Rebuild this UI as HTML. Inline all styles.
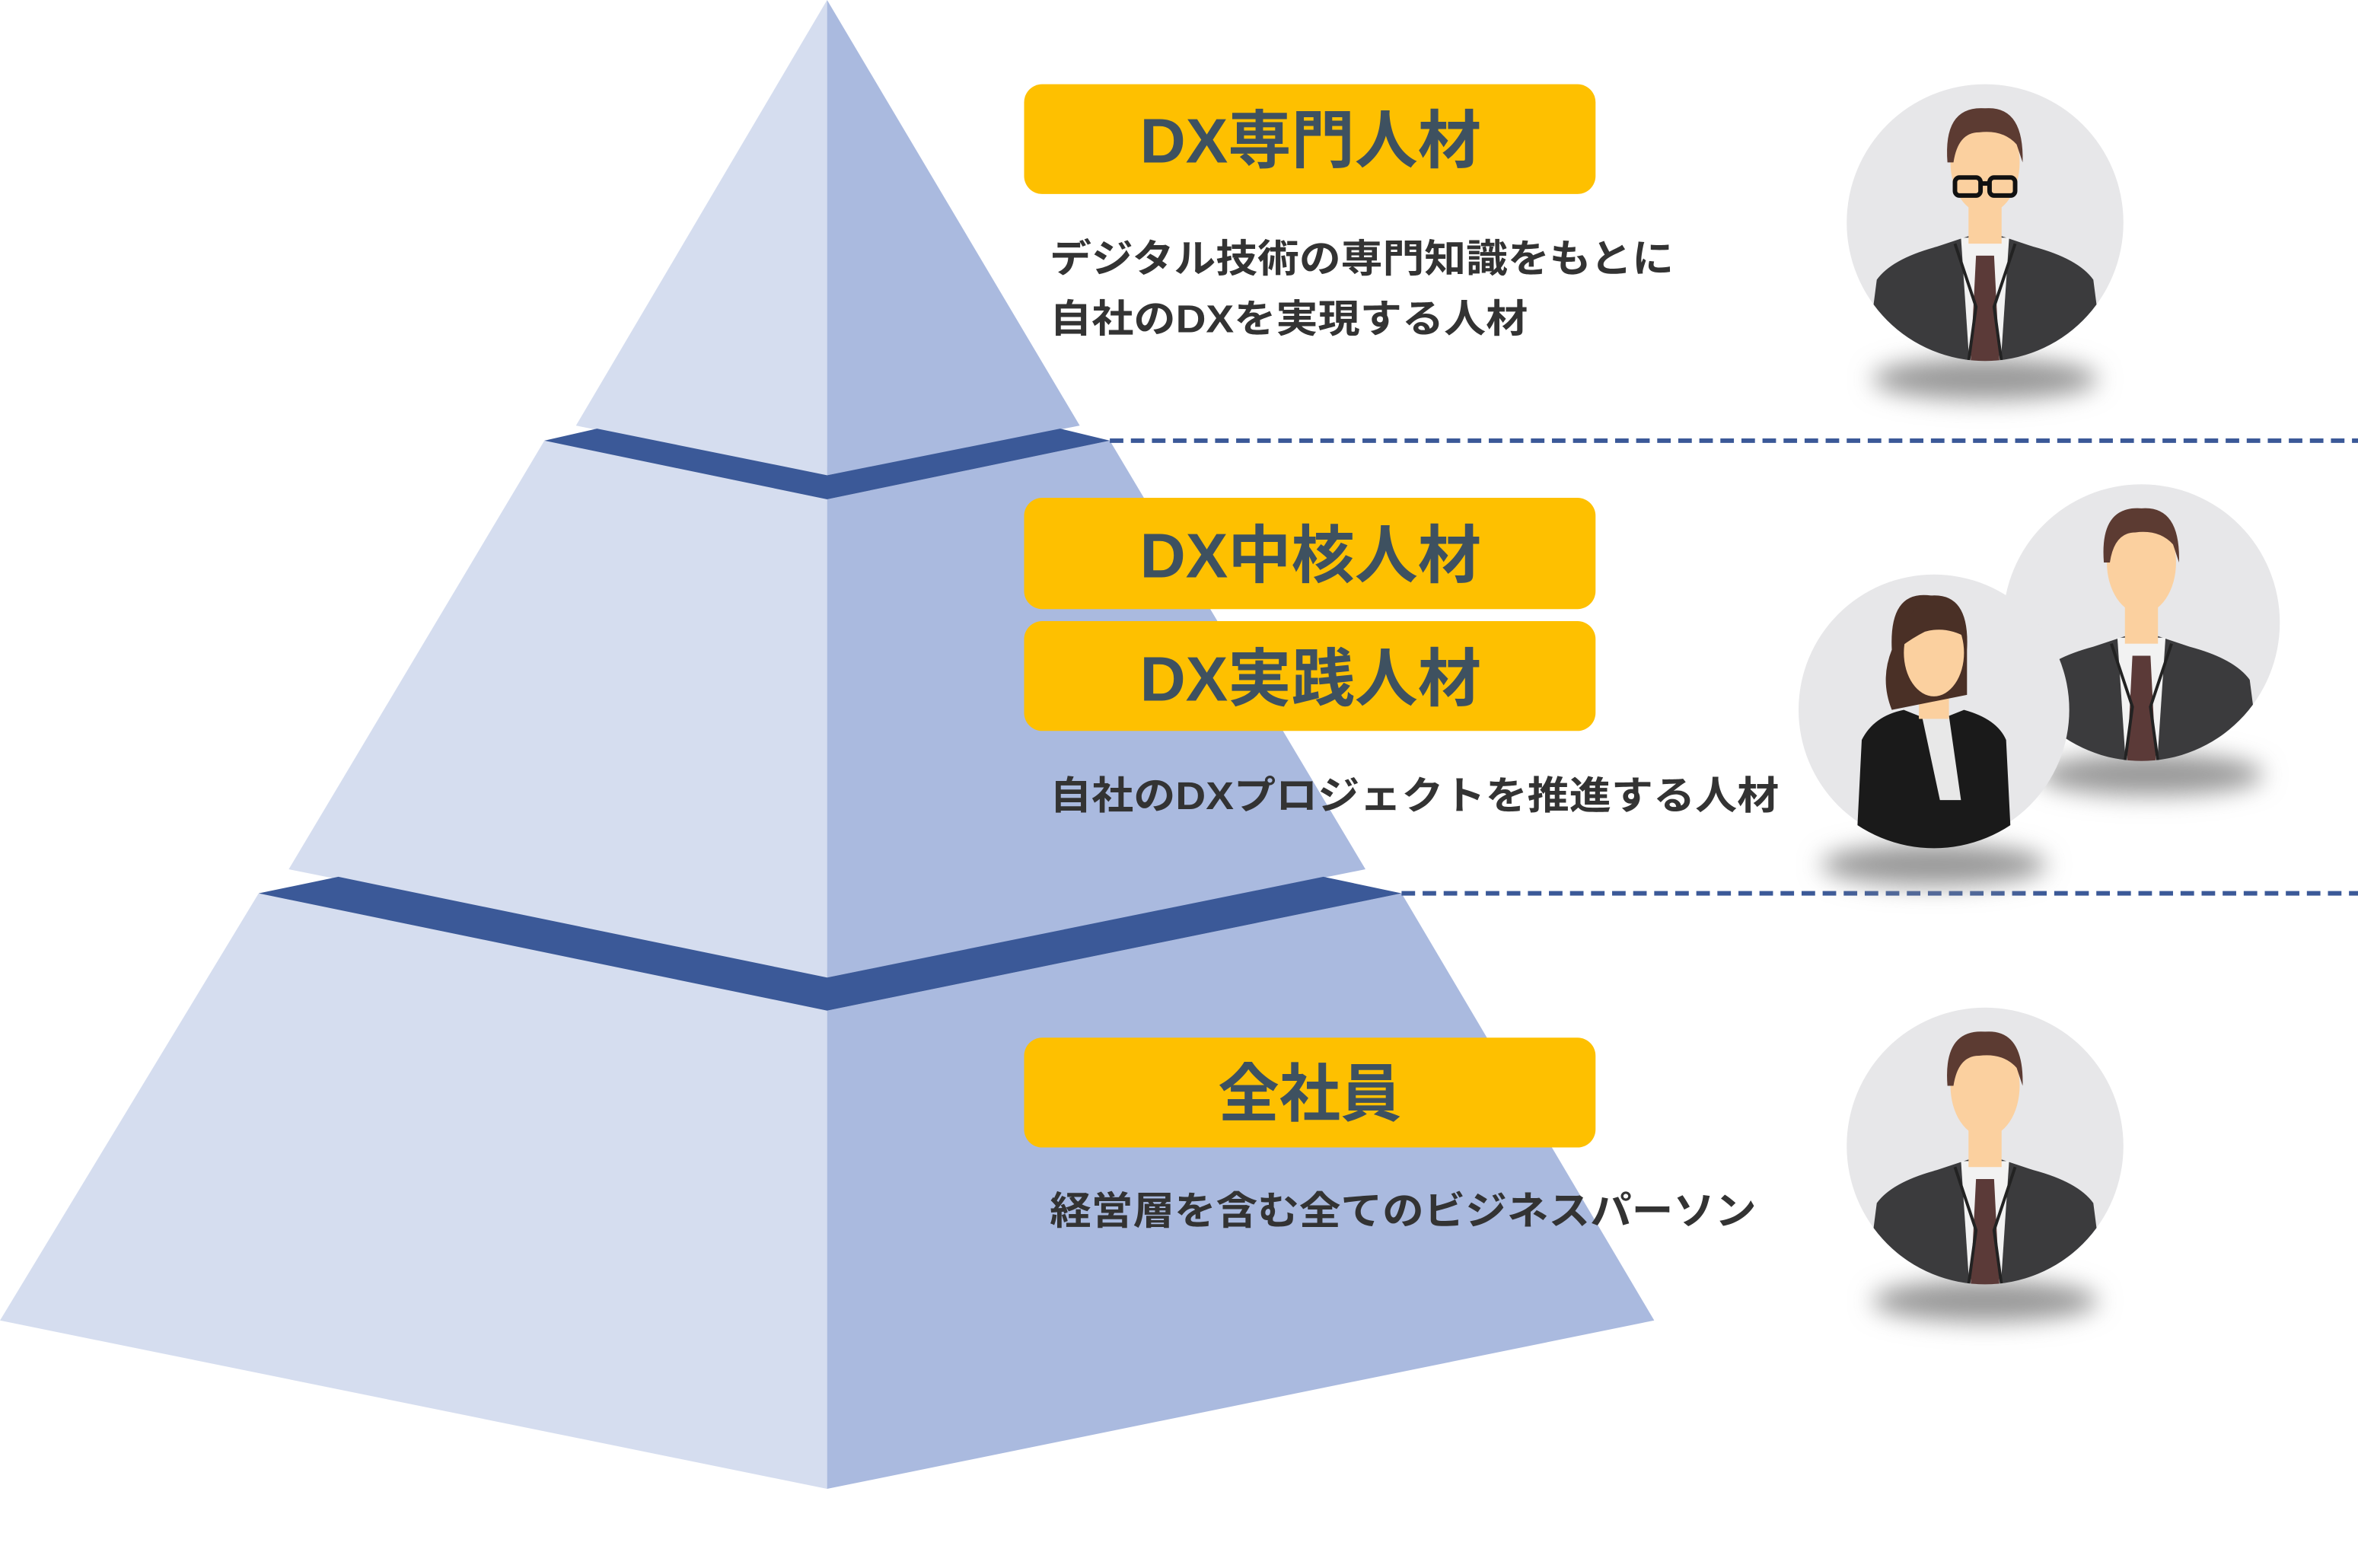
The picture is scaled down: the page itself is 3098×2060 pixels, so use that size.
<!DOCTYPE html>
<html><head><meta charset="utf-8"><style>
html,body{margin:0;padding:0;background:#fff;}
svg{display:block;}
.h{font-family:"Liberation Sans","Noto Sans CJK JP",sans-serif;font-weight:bold;font-size:42px;fill:#3e5160;}
.d{font-family:"Liberation Sans","Noto Sans CJK JP",sans-serif;font-weight:bold;font-size:26px;fill:#333;}
</style></head><body>
<svg width="3098" height="2060" viewBox="0 0 1568 1042.6" xmlns="http://www.w3.org/2000/svg">
<defs>
<filter id="bl" x="-50%" y="-100%" width="200%" height="300%"><feGaussianBlur stdDeviation="8"/></filter>
<clipPath id="cc"><circle cx="0" cy="0" r="92"/></clipPath>
<g id="man">
<circle r="92" fill="#e7e7e9"/>
<g clip-path="url(#cc)">
<path d="M-80,100 L-72,38 Q-62,24 -32,16 L-8,8 L8,8 L32,16 Q62,24 72,38 L80,100 Z" fill="#3b3b3d"/>
<path d="M-16,10 L16,10 L10,100 L-10,100 Z" fill="#f2f2f2"/>
<path d="M-6,22 L6,22 L10,100 L-10,100 Z" fill="#5b3a38"/>
<path d="M-20,14 L-6,56 L-12,100 M20,14 L6,56 L12,100" stroke="#222" stroke-width="2" fill="none"/>
<rect x="-11" y="-16" width="22" height="30" fill="#fbd09f"/>
<ellipse cx="0" cy="-40" rx="23" ry="34" fill="#fbd09f"/>
<path d="M-25,-40 Q-28,-78 0,-76 Q26,-78 25,-40 L21,-52 Q12,-62 -4,-60 Q-18,-60 -21,-40 Z" fill="#5c3b32"/>
</g>
</g>
</defs>

<polygon points="550,0 383,283 550,316" fill="#d5ddef"/>
<polygon points="550,0 718,283 550,316" fill="#aabadf"/>
<polygon points="362,293 550,332 550,650 192,578" fill="#d5ddef"/>
<polygon points="738,293 550,332 550,650 908,578" fill="#aabadf"/>
<polygon points="172,594 550,672 550,990 0,878" fill="#d5ddef"/>
<polygon points="932,594 550,672 550,990 1100,878" fill="#aabadf"/>
<polygon points="362,293 397,285 550,316 705,285 738,293 550,332" fill="#3b5998"/>
<polygon points="172,594 225,583 550,650 880,583 932,594 550,672" fill="#3b5998"/>

<line x1="738" y1="293" x2="1568" y2="293" stroke="#3b5998" stroke-width="3" stroke-dasharray="9,5"/>
<line x1="932" y1="594" x2="1568" y2="594" stroke="#3b5998" stroke-width="3" stroke-dasharray="9,5"/>

<rect x="681" y="56" width="380" height="73" rx="12" fill="#fec000"/>
<rect x="681" y="331" width="380" height="74" rx="12" fill="#fec000"/>
<rect x="681" y="413" width="380" height="73" rx="12" fill="#fec000"/>
<rect x="681" y="690" width="380" height="73" rx="12" fill="#fec000"/>
<text class="h" x="758" y="108" textLength="227" lengthAdjust="spacingAndGlyphs">DX専門人材</text>
<text class="h" x="758" y="384" textLength="227" lengthAdjust="spacingAndGlyphs">DX中核人材</text>
<text class="h" x="758" y="466" textLength="227" lengthAdjust="spacingAndGlyphs">DX実践人材</text>
<text class="h" x="810" y="742" textLength="122" lengthAdjust="spacingAndGlyphs">全社員</text>

<text class="d" x="698" y="181" textLength="415" lengthAdjust="spacingAndGlyphs">デジタル技術の専門知識をもとに</text>
<text class="d" x="698" y="221" textLength="318" lengthAdjust="spacingAndGlyphs">自社のDXを実現する人材</text>
<text class="d" x="698" y="538" textLength="485" lengthAdjust="spacingAndGlyphs">自社のDXプロジェクトを推進する人材</text>
<text class="d" x="698" y="814" textLength="470" lengthAdjust="spacingAndGlyphs">経営層を含む全てのビジネスパーソン</text>

<ellipse cx="1320" cy="252" rx="75" ry="14" fill="#999" filter="url(#bl)"/>
<use href="#man" x="1320" y="148"/>
<g transform="translate(1320,148)" fill="none" stroke="#111" stroke-width="3">
<rect x="-20" y="-30" width="17" height="12" rx="3"/><rect x="3" y="-30" width="17" height="12" rx="3"/>
<line x1="-3" y1="-26" x2="3" y2="-26"/>
</g>
<ellipse cx="1430" cy="515" rx="75" ry="14" fill="#999" filter="url(#bl)"/>
<use href="#man" x="1424" y="414"/>
<ellipse cx="1286" cy="575" rx="75" ry="14" fill="#999" filter="url(#bl)"/>
<g transform="translate(1286,472)">
<circle r="90" fill="#e7e7e9"/>
<g clip-path="url(#cc)">
<path d="M-52,100 L-48,20 Q-40,4 -20,0 L0,8 L20,0 Q42,6 48,20 L52,100 Z" fill="#1a1a1a"/>
<path d="M-8,4 L10,4 L18,60 L4,60 Z" fill="#e8e8e8"/>
<rect x="-10" y="-22" width="20" height="28" fill="#fbd09f"/>
<path d="M-28,-40 Q-30,-80 -2,-76 Q24,-78 22,-40 L22,-10 L-28,0 Q-36,-20 -28,-40 Z" fill="#4a3026"/>
<ellipse cx="0" cy="-38" rx="20" ry="29" fill="#fbd09f"/>
<path d="M-22,-42 Q-20,-72 2,-70 Q20,-68 22,-48 Q8,-56 -6,-52 Q-14,-48 -22,-42 Z" fill="#4a3026"/>
</g>
</g>
<ellipse cx="1320" cy="865" rx="75" ry="14" fill="#999" filter="url(#bl)"/>
<use href="#man" x="1320" y="762"/>
</svg>
</body></html>
